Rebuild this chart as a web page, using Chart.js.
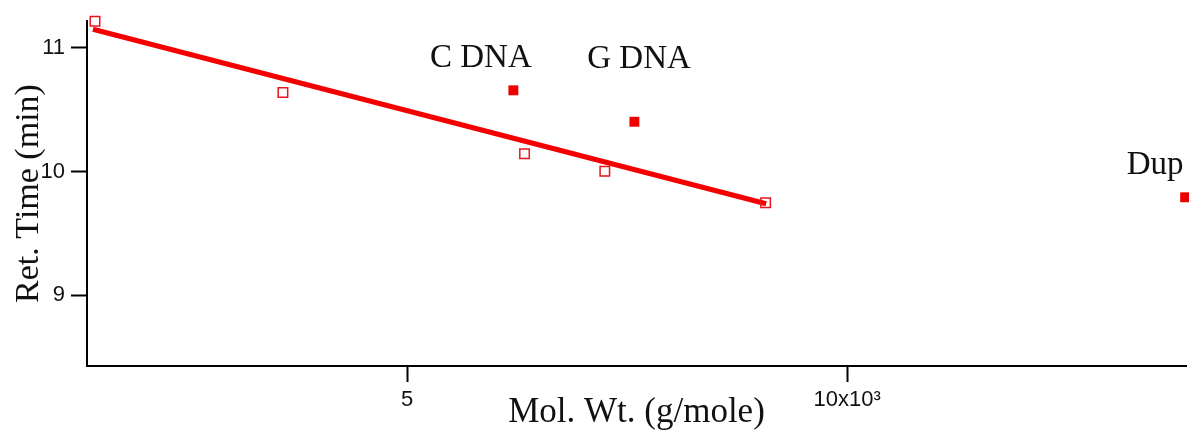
<!DOCTYPE html>
<html>
<head>
<meta charset="utf-8">
<script src="https://cdn.jsdelivr.net/npm/chart.js@4"></script>
<style>
  html, body { margin: 0; padding: 0; background: #fff; }
</style>
</head>
<body>
<canvas id="molChart" width="1189" height="434"></canvas>
<script>
// standards (open squares), mol. wt. in g/mole
let stdMolWt = [1455, 3590, 6335, 7247, 9074];
let stdRetTime = [11.214, 10.638, 10.143, 10.002, 9.748];

// samples (filled squares)
let sampleNames = ['C DNA', 'G DNA', 'Dup'];
let sampleMolWt = [6208, 7583, 13840];
let sampleRetTime = [10.656, 10.402, 9.792];
// where the sample names sit (data units, text baseline)
let sampleLabelX = [5839, 7636, 13500];
let sampleLabelY = [10.847, 10.834, 9.979];

// calibration fit line through the standards
let fitMolWt = [1432, 9080];
let fitRetTime = [11.149, 9.74];

let xTicks = [5000, 10000];
let xTickLabels = ['5', '10x10³'];
let yTicks = [9, 10, 11];


function points(xs, ys) {
  return xs.map((x, i) => ({x: x, y: ys[i]}));
}

let sampleLabels = {
  id: 'sampleLabels',
  afterDatasetsDraw(chart) {
    let ctx = chart.ctx;
    let xs = chart.scales.x;
    let ys = chart.scales.y;
    ctx.save();
    ctx.font = '33px "Liberation Serif"';
    ctx.fillStyle = '#111';
    ctx.textAlign = 'center';
    ctx.textBaseline = 'alphabetic';
    sampleNames.forEach((name, i) => {
      ctx.fillText(name, xs.getPixelForValue(sampleLabelX[i]), ys.getPixelForValue(sampleLabelY[i]));
    });
    ctx.restore();
  }
};

let tickFont = {family: 'Liberation Sans', size: 22};
let axisGrid = {drawOnChartArea: false, drawTicks: true, tickLength: 16, tickWidth: 2, tickColor: '#000'};
let axisBorder = {color: '#000', width: 2};

new Chart(document.getElementById('molChart'), {
  type: 'scatter',
  data: {
    datasets: [
      {
        label: 'fit',
        type: 'line',
        data: points(fitMolWt, fitRetTime),
        borderColor: '#f50000',
        borderWidth: 5,
        pointRadius: 0,
        order: 2
      },
      {
        label: 'standards',
        data: points(stdMolWt, stdRetTime),
        pointStyle: 'rect',
        pointRadius: 6.7,
        borderColor: '#e8141e',
        borderWidth: 1.5,
        backgroundColor: 'rgba(0,0,0,0)',
        clip: false,
        order: 1
      },
      {
        label: 'samples',
        data: points(sampleMolWt, sampleRetTime),
        pointStyle: 'rect',
        pointRadius: 7,
        borderWidth: 0,
        backgroundColor: '#ee0000',
        clip: false,
        order: 1
      }
    ]
  },
  options: {
    responsive: false,
    animation: false,
    layout: {autoPadding: false, padding: {top: 21, right: 3, left: 0, bottom: 0}},
    plugins: {legend: {display: false}, tooltip: {enabled: false}},
    scales: {
      x: {
        type: 'linear',
        min: 1364,
        max: 13850,
        afterBuildTicks: s => { s.ticks = xTicks.map(v => ({value: v})); },
        afterFit: s => { s.height = 68; s.paddingLeft = 0; s.paddingRight = 0; },
        grid: axisGrid,
        border: axisBorder,
        ticks: {
          font: tickFont,
          color: '#111',
          padding: 5,
          maxRotation: 0,
          callback: (v, i) => xTickLabels[i]
        },
        title: {display: true, text: 'Mol. Wt. (g/mole)', font: {family: 'Liberation Serif', size: 35}, color: '#111', padding: {top: 0, bottom: 0}}
      },
      y: {
        type: 'linear',
        min: 8.429,
        max: 11.216,
        afterBuildTicks: s => { s.ticks = yTicks.map(v => ({value: v})); },
        afterFit: s => { s.width = 87; },
        grid: axisGrid,
        border: axisBorder,
        ticks: {font: tickFont, color: '#111', padding: 6},
        title: {display: true, text: 'Ret. Time (min)', font: {family: 'Liberation Serif', size: 34}, color: '#111', padding: {top: 9, bottom: 0}}
      }
    }
  },
  plugins: [sampleLabels]
});
</script>
</body>
</html>
